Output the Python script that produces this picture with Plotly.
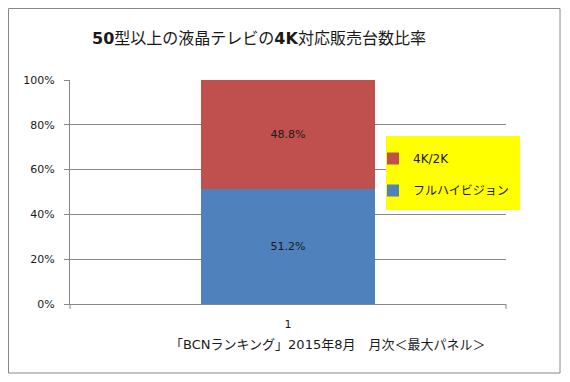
import plotly.graph_objects as go

categories = ["1"]
series_names = ["フルハイビジョン", "4K/2K"]
values_fullhd = [51.2]
values_4k = [48.8]
colors = ["#4F81BD", "#C0504D"]
y_ticks = [0, 20, 40, 60, 80, 100]
y_tick_labels = ["0%", "20%", "40%", "60%", "80%", "100%"]
source_note = "「BCNランキング」2015年8月　月次＜最大パネル＞"

FONT = "DejaVu Sans, Noto Sans CJK JP, sans-serif"

W, H = 554, 366
L, R, T, B = 62, 498, 72, 296  # plot area in figure pixels
PW, PH = R - L, B - T


def px(x):
    return (x - L) / PW


def py(y):
    return (B - y) / PH


fig = go.Figure()
for name, vals, col, rank in [(series_names[0], values_fullhd, colors[0], 2),
                              (series_names[1], values_4k, colors[1], 1)]:
    fig.add_trace(go.Bar(
        x=categories, y=vals, name=name, marker=dict(color=col, line=dict(width=0)),
        width=0.4, text=[f"{v:.1f}%" for v in vals], textposition="inside",
        insidetextanchor="middle", textfont=dict(size=11, color="#1a1a1a", family=FONT),
        legendgroup=name, legendrank=rank, hoverinfo="skip"))

fig.update_layout(
    width=W, height=H,
    barmode="stack",
    margin=dict(l=L, r=W - R, t=T, b=H - B),
    paper_bgcolor="white", plot_bgcolor="white",
    font=dict(family=FONT, size=11, color="#1a1a1a"),
    title=dict(text="<b>50</b>型以上の液晶テレビの<b>4K</b>対応販売台数比率",
               xref="container", x=251 / W, xanchor="center",
               y=1 - 30 / H, yanchor="middle", font=dict(size=16, color="#1a1a1a", family=FONT)),
    showlegend=True,
    legend=dict(x=px(365), y=py(136), xanchor="left", yanchor="top",
                bgcolor="rgba(0,0,0,0)", traceorder="grouped", tracegroupgap=13,
                font=dict(size=12, family=FONT, color="#1a1a1a"), itemwidth=30),
    xaxis=dict(type="category", range=[-0.5, 0.5], showgrid=False, showline=True,
               linecolor="#888888", linewidth=1, ticks="", tickfont=dict(size=11),
               ticklabelstandoff=10),
    yaxis=dict(range=[0, 100], tickvals=y_ticks, ticktext=y_tick_labels, showgrid=True,
               gridcolor="#888888", gridwidth=1, showline=True, linecolor="#888888",
               ticks="outside", ticklen=5, tickcolor="#888888", zeroline=False,
               tickfont=dict(size=11), ticklabelstandoff=7),
    annotations=[
        dict(text=source_note, xref="paper", yref="paper", x=px(319), y=py(336),
             xanchor="center", yanchor="middle", showarrow=False,
             font=dict(size=13, family=FONT, color="#1a1a1a")),
    ],
    shapes=[
        dict(type="rect", xref="paper", yref="paper", x0=px(378), x1=px(512),
             y0=py(202), y1=py(128), fillcolor="#FFFF00",
             line=dict(width=0), layer="above"),
        dict(type="rect", xref="paper", yref="paper", x0=px(0.5), x1=px(552),
             y0=py(365), y1=py(0.5), line=dict(color="#888888", width=1),
             fillcolor="rgba(0,0,0,0)", layer="below"),
        dict(type="line", xref="paper", yref="paper", x0=1, x1=1, y0=0, y1=-5 / PH,
             line=dict(color="#888888", width=1)),
        dict(type="line", xref="paper", yref="paper", x0=0, x1=0, y0=0, y1=-5 / PH,
             line=dict(color="#888888", width=1)),
    ],
)

fig.write_html("out.html")
